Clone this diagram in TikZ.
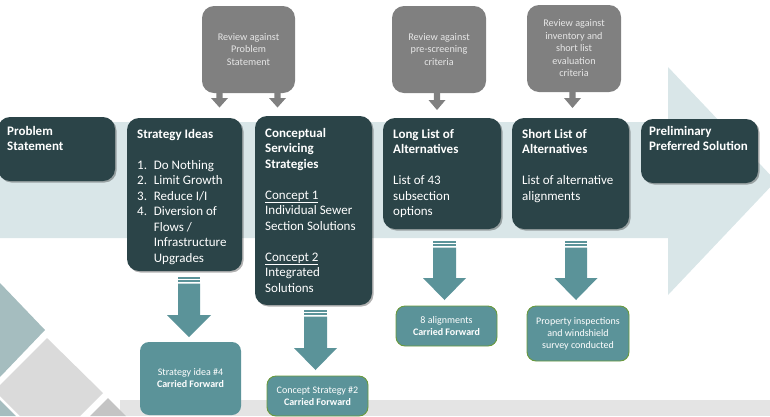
\documentclass[tikz,border=0pt]{standalone}
\usepackage{fontspec}
\setmainfont{Carlito}
\usetikzlibrary{shadows,calc}
\definecolor{darkboxc}{HTML}{2B4448}
\definecolor{bandc}{HTML}{D9E6E8}
\definecolor{grayboxc}{HTML}{808080}
\definecolor{grtextc}{HTML}{E6E6E6}
\definecolor{tealc}{HTML}{5B9399}
\definecolor{greenb}{HTML}{6A9A3C}
\definecolor{stripc}{HTML}{E4E4E4}
\definecolor{diamteal}{HTML}{A5BDBF}
\definecolor{diamgray}{HTML}{DADADA}
\definecolor{diamdark}{HTML}{C4C4C4}
\newcommand\dfont{\fontsize{13}{15.5}\selectfont}
% block arrow: x, y top, y head base, y tip, half shaft, half head, colour
\newcommand\blockarrow[7]{%
  \fill[#7] ({#1-#5},#2) -- ({#1+#5},#2) -- ({#1+#5},#3) -- ({#1+#6},#3) -- (#1,#4)
    -- ({#1-#6},#3) -- ({#1-#5},#3) -- cycle;}
% striped teal arrow: x, y top, y head base, y tip, half shaft, half head
\newcommand\stripearrow[6]{%
  \fill[tealc] ({#1-#5},#2) rectangle ({#1+#5},{#2+1.7});
  \fill[tealc] ({#1-#5},{#2+3.3}) rectangle ({#1+#5},{#2+5});
  \blockarrow{#1}{#2+6.6}{#3}{#4}{#5}{#6}{tealc}}
\begin{document}
\begin{tikzpicture}[x=1pt,y=-1pt,
  dbox/.style={fill=darkboxc, rounded corners=12pt, inner sep=0pt,
    drop shadow={shadow xshift=1.5pt,shadow yshift=-1.5pt,opacity=0.3,fill=black}},
  gbox/.style={fill=grayboxc, rounded corners=12pt, inner sep=0pt, align=center,
    text=grtextc, font=\fontsize{10.2}{12.5}\selectfont},
  tbox/.style={fill=tealc, rounded corners=9pt, inner sep=0pt, align=center,
    text=white, font=\fontsize{10}{12}\selectfont},
  gborder/.style={draw=greenb, line width=0.9pt},
  dtext/.style={anchor=base west, inner sep=0pt, text=white},
]
\useasboundingbox (0,0) rectangle (770,416);
% background chevron band
\fill[bandc] (0,122) -- (668,122) -- (668,67) -- (776,181) -- (668,295) -- (668,238) -- (0,238) -- cycle;
% bottom strip
\fill[stripc] (120,400) rectangle (770,416);
% decorative diamonds
\fill[diamteal] (0,283) -- (45,330) -- (0,377) -- cycle;
\fill[diamgray] (47,338) -- (103,393) -- (80,416) -- (20,416) -- (0,396) -- (0,385) -- cycle;
\fill[diamteal] (0,400) -- (16,416) -- (0,416) -- cycle;
\fill[diamdark] (108,398) -- (126,416) -- (90,416) -- cycle;

% grey review boxes
\node[gbox, minimum width=93pt, minimum height=87pt] (r1) at (248.5,49.5) {Review against\\Problem\\Statement};
\node[gbox, minimum width=94pt, minimum height=87pt] (r2) at (439,49.5) {Review against\\pre-screening\\criteria};
\node[gbox, minimum width=94pt, minimum height=87pt] (r3) at (574,48.5) {Review against\\inventory and\\short list\\evaluation\\criteria};

% grey arrows
\blockarrow{219.5}{92}{98}{107.5}{3.2}{8.5}{grayboxc}
\blockarrow{277.5}{92}{98}{107.5}{3.2}{8.5}{grayboxc}
\blockarrow{437}{92}{100}{110}{3.2}{8.5}{grayboxc}
\blockarrow{572.5}{91}{98}{108}{3.2}{8.5}{grayboxc}

% dark process boxes
\node[dbox, minimum width=117pt, minimum height=64pt] (ps) at (56.5,149) {};
\node[dbox, minimum width=115pt, minimum height=153pt] (si) at (184.5,194.5) {};
\node[dbox, minimum width=117pt, minimum height=189pt] (cs) at (313.5,210.5) {};
\node[dbox, minimum width=118pt, minimum height=111pt] (ll) at (442,173.5) {};
\node[dbox, minimum width=117pt, minimum height=111pt] (sl) at (570.5,173.5) {};
\node[dbox, minimum width=117pt, minimum height=64pt] (pp) at (699.5,151) {};

\node[dtext] (pst) at (7,135) {\parbox[t]{105pt}{\dfont\bfseries Problem\\Statement}};
\node[dtext] (sit) at (137,138) {\parbox[t]{105pt}{\dfont\textbf{Strategy Ideas}\\[15.5pt]
  \makebox[16.7pt][l]{1.}Do Nothing\\
  \makebox[16.7pt][l]{2.}Limit Growth\\
  \makebox[16.7pt][l]{3.}Reduce I/I\\
  \makebox[16.7pt][l]{4.}Diversion of\\
  \makebox[16.7pt][l]{}Flows /\\
  \makebox[16.7pt][l]{}Infrastructure\\
  \makebox[16.7pt][l]{}Upgrades}};
\node[dtext] (cst) at (265,137) {\parbox[t]{107pt}{\dfont\textbf{Conceptual}\\\textbf{Servicing}\\\textbf{Strategies}\\[15.5pt]
  \underline{Concept 1}\\Individual Sewer\\Section Solutions\\[15.5pt]
  \underline{Concept 2}\\Integrated\\Solutions}};
\node[dtext] (llt) at (393,138) {\parbox[t]{107pt}{\dfont\textbf{Long List of}\\\textbf{Alternatives}\\[15.5pt]
  List of 43\\subsection\\options}};
\node[dtext] (slt) at (522,138) {\parbox[t]{107pt}{\dfont\textbf{Short List of}\\\textbf{Alternatives}\\[15.5pt]
  List of alternative\\alignments}};
\node[dtext] (ppt) at (649,135) {\parbox[t]{110pt}{\dfont\bfseries Preliminary\\Preferred Solution}};

% teal arrows
\stripearrow{189}{277}{315}{337}{11}{22}
\stripearrow{315.5}{310}{348}{370}{11.5}{21.5}
\stripearrow{444.5}{241}{278}{300}{11.5}{21.5}
\stripearrow{576}{241}{278}{300}{11}{21.5}

% teal result boxes
\node[tbox, minimum width=101pt, minimum height=73pt] (ta) at (190.5,378.5) {Strategy idea \#4\\\textbf{Carried Forward}};
\node[tbox, gborder, minimum width=101pt, minimum height=40pt] (tb) at (317.5,396) {Concept Strategy \#2\\\textbf{Carried Forward}};
\node[tbox, gborder, minimum width=101pt, minimum height=40pt] (tc) at (446.5,326) {8 alignments\\\textbf{Carried Forward}};
\node[tbox, gborder, minimum width=102pt, minimum height=55pt] (td) at (578,333.5) {Property inspections\\and windshield\\survey conducted};
\end{tikzpicture}
\end{document}
